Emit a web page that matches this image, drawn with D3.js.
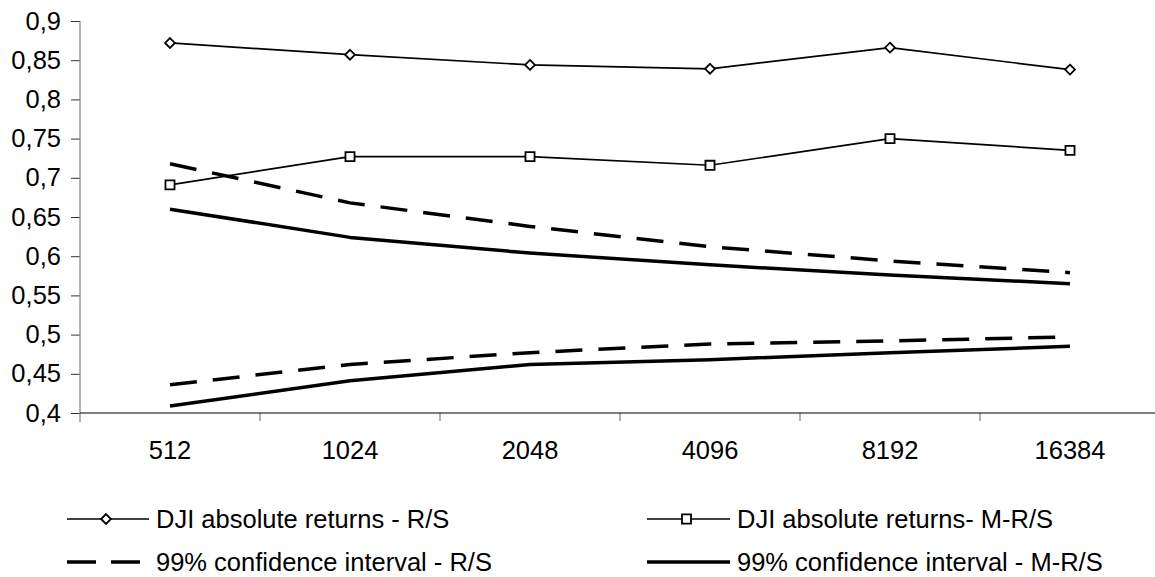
<!DOCTYPE html>
<html>
<head>
<meta charset="utf-8">
<script src="https://cdn.jsdelivr.net/npm/d3@7"></script>
<style>
  html, body { margin: 0; padding: 0; background: #fff; }
  svg { display: block; font-family: "Liberation Sans", Arial, sans-serif; }
</style>
</head>
<body>
<svg id="chart" width="1155" height="577"></svg>
<script>
// Window sizes (number of observations)
const categories = ["512", "1024", "2048", "4096", "8192", "16384"];

// Hurst exponent estimates for DJI absolute returns
const rsValues  = [0.872, 0.857, 0.844, 0.839, 0.866, 0.838];
const mrsValues = [0.691, 0.727, 0.727, 0.716, 0.750, 0.735];

// 99% confidence bands
const rsUpper  = [0.718, 0.668, 0.638, 0.612, 0.594, 0.579];
const rsLower  = [0.436, 0.462, 0.477, 0.488, 0.492, 0.497];
const mrsUpper = [0.660, 0.624, 0.604, 0.589, 0.576, 0.565];
const mrsLower = [0.409, 0.441, 0.462, 0.468, 0.477, 0.485];

// Y axis ticks
const yTicks = [0.4, 0.45, 0.5, 0.55, 0.6, 0.65, 0.7, 0.75, 0.8, 0.85, 0.9];

const legendLabels = [
  "DJI absolute returns - R/S",
  "DJI absolute returns- M-R/S",
  "99% confidence interval - R/S",
  "99% confidence interval - M-R/S"
];

const FONT = 25.5;
const svg = d3.select("#chart");
const plot = { left: 80, right: 1160, top: 21, bottom: 413 };

const x = d3.scaleBand().domain(categories).range([plot.left, plot.right]).padding(0);
const xc = c => x(c) + x.bandwidth() / 2;
const y = d3.scaleLinear().domain([0.4, 0.9]).range([plot.bottom, plot.top]);

const fmt = d => String(+d.toFixed(2)).replace(".", ",");

// Y axis
const yAxis = svg.append("g")
  .attr("transform", `translate(${plot.left},0)`)
  .call(d3.axisLeft(y).tickValues(yTicks).tickFormat(fmt).tickSize(9).tickPadding(10));
yAxis.select(".domain").remove();
yAxis.selectAll(".tick line").attr("stroke", "#333");
yAxis.selectAll(".tick text")
  .attr("font-size", FONT).attr("fill", "#000")
  .attr("font-family", "Liberation Sans, Arial, sans-serif");
svg.append("line")
  .attr("x1", plot.left).attr("x2", plot.left)
  .attr("y1", plot.top).attr("y2", plot.bottom + 9)
  .attr("stroke", "#808080").attr("stroke-width", 1.2);

// X axis: labels centred in each category, ticks on category boundaries
const xAxis = svg.append("g")
  .attr("transform", `translate(0,${plot.bottom})`)
  .call(d3.axisBottom(x).tickSize(0).tickPadding(0));
xAxis.select(".domain").remove();
xAxis.selectAll(".tick text")
  .attr("dy", null)
  .attr("y", 46)
  .attr("font-size", FONT).attr("fill", "#000")
  .attr("font-family", "Liberation Sans, Arial, sans-serif");
const boundaries = categories.slice(1).map(c => x(c));
svg.append("g").selectAll("line").data(boundaries).join("line")
  .attr("x1", d => d).attr("x2", d => d)
  .attr("y1", plot.bottom).attr("y2", plot.bottom + 8)
  .attr("stroke", "#808080").attr("stroke-width", 1.2);
svg.append("line")
  .attr("x1", plot.left).attr("x2", plot.right)
  .attr("y1", plot.bottom).attr("y2", plot.bottom)
  .attr("stroke", "#000").attr("stroke-width", 1.2);

const line = d3.line().x((d, i) => xc(categories[i])).y(d => y(d));

const dash = "27,16";

function drawLine(vals, width, dasharray) {
  svg.append("path")
    .datum(vals)
    .attr("d", line)
    .attr("fill", "none")
    .attr("stroke", "#000")
    .attr("stroke-width", width)
    .attr("stroke-dasharray", dasharray || null)
    .attr("stroke-linejoin", "round");
}

drawLine(rsUpper, 3.5, dash);
drawLine(rsLower, 3.5, dash);
drawLine(mrsUpper, 3.5);
drawLine(mrsLower, 3.5);
drawLine(rsValues, 1.7);
drawLine(mrsValues, 1.7);

const diamond = d3.symbol().type(d3.symbolDiamond2).size(62);
const square = d3.symbol().type(d3.symbolSquare).size(82);

svg.append("g").selectAll("path").data(rsValues).join("path")
  .attr("d", diamond)
  .attr("transform", (d, i) => `translate(${xc(categories[i])},${y(d)})`)
  .attr("fill", "#fff").attr("stroke", "#000").attr("stroke-width", 1.8);

svg.append("g").selectAll("path").data(mrsValues).join("path")
  .attr("d", square)
  .attr("transform", (d, i) => `translate(${xc(categories[i])},${y(d)})`)
  .attr("fill", "#fff").attr("stroke", "#000").attr("stroke-width", 1.8);

// Legend
const legendItems = [
  { label: legendLabels[0], x0: 67,  x1: 149, ty: 519, w: 1.7, marker: diamond, dash: null },
  { label: legendLabels[1], x0: 647, x1: 730, ty: 519, w: 1.7, marker: square, dash: null },
  { label: legendLabels[2], x0: 67,  x1: 149, ty: 562, w: 3.5, marker: null, dash: "29,15" },
  { label: legendLabels[3], x0: 647, x1: 730, ty: 562, w: 3.5, marker: null, dash: null }
];

const lg = svg.append("g").selectAll("g").data(legendItems).join("g");
lg.append("line")
  .attr("x1", d => d.x0).attr("x2", d => d.x1)
  .attr("y1", d => d.ty).attr("y2", d => d.ty)
  .attr("stroke", "#000").attr("stroke-width", d => d.w)
  .attr("stroke-dasharray", d => d.dash);
lg.filter(d => d.marker).append("path")
  .attr("d", d => d.marker())
  .attr("transform", d => `translate(${(d.x0 + d.x1) / 2 - 2},${d.ty})`)
  .attr("fill", "#fff").attr("stroke", "#000").attr("stroke-width", 1.8);
lg.append("text")
  .attr("x", d => d.x1 + 7).attr("y", d => d.ty)
  .attr("dy", "0.35em")
  .attr("font-size", FONT)
  .text(d => d.label);
</script>
</body>
</html>
